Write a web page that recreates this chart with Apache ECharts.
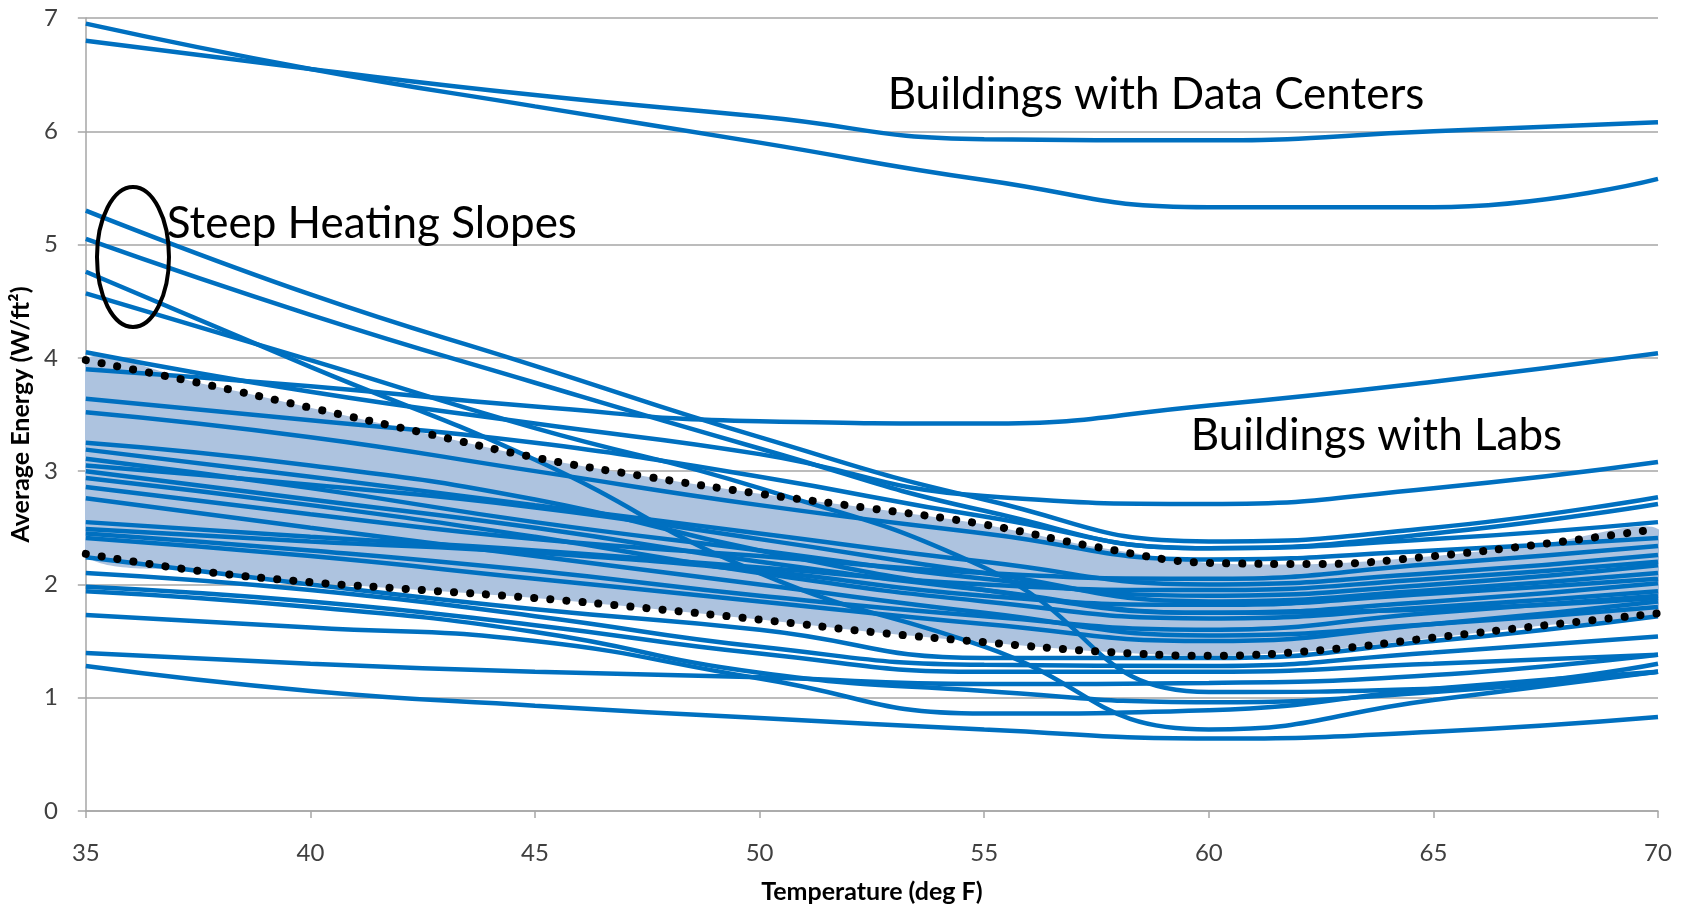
<!DOCTYPE html>
<html>
<head>
<meta charset="utf-8">
<script src="https://cdn.jsdelivr.net/npm/echarts@6/dist/echarts.min.js"></script>
<style>
  html, body { margin: 0; padding: 0; background: #fff; }
  #chart { width: 1688px; height: 909px; }
</style>
</head>
<body>
<div id="chart"></div>
<script>
// temperatures where each building curve was read (deg F)
const temps = [35, 40, 45, 50, 55, 60, 65, 70];

// buildings with data centers
const dataCenterLines = [
  [6.95, 6.55, 6.22, 5.90, 5.57, 5.33, 5.33, 5.58],
  [6.80, 6.55, 6.32, 6.13, 5.93, 5.92, 6.00, 6.08]
];

// buildings with labs
const labLines = [
  [3.90, 3.75, 3.57, 3.44, 3.42, 3.58, 3.79, 4.04],
  [4.05, 3.70, 3.42, 3.15, 2.78, 2.71, 2.85, 3.08]
];

// steep heating slopes
const steepLines = [
  [5.30, 4.56, 3.93, 3.30, 2.75, 2.38, 2.50, 2.77],
  [5.05, 4.38, 3.78, 3.20, 2.65, 2.32, 2.45, 2.71],
  [4.76, 3.92, 3.10, 2.10, 1.45, 0.72, 0.98, 1.23],
  [4.57, 3.98, 3.38, 2.85, 2.15, 1.05, 1.08, 1.30]
];

// typical buildings inside the shaded band
const typicalLines = [
  [3.64, 3.45, 3.25, 2.95, 2.60, 2.32, 2.40, 2.55],
  [3.52, 3.30, 3.00, 2.70, 2.45, 2.22, 2.30, 2.41],
  [3.25, 3.05, 2.75, 2.30, 1.95, 1.75, 1.78, 1.88],
  [3.19, 2.95, 2.70, 2.45, 2.20, 2.00, 2.10, 2.26],
  [3.11, 2.85, 2.55, 2.30, 2.05, 1.90, 2.00, 2.17],
  [3.05, 2.88, 2.68, 2.40, 2.10, 1.85, 1.95, 2.10],
  [3.00, 2.75, 2.50, 2.20, 1.95, 1.75, 1.85, 2.01],
  [2.94, 2.70, 2.42, 2.10, 1.85, 1.70, 1.80, 1.94],
  [2.86, 2.62, 2.40, 2.25, 2.10, 2.05, 2.18, 2.34],
  [2.76, 2.50, 2.25, 2.00, 1.75, 1.55, 1.65, 1.80],
  [2.55, 2.42, 2.30, 2.15, 2.00, 1.95, 2.05, 2.20],
  [2.49, 2.38, 2.28, 2.12, 1.90, 1.82, 1.92, 2.05],
  [2.45, 2.30, 2.12, 1.90, 1.72, 1.60, 1.75, 1.90],
  [2.41, 2.25, 2.05, 1.85, 1.65, 1.50, 1.65, 1.85]
];

// low energy buildings below the band
const lowLines = [
  [2.24, 2.00, 1.78, 1.60, 1.35, 1.35, 1.50, 1.72],
  [2.10, 1.95, 1.72, 1.45, 1.29, 1.28, 1.40, 1.54],
  [1.98, 1.85, 1.64, 1.39, 1.23, 1.23, 1.30, 1.38],
  [1.94, 1.80, 1.58, 1.22, 1.06, 0.96, 1.05, 1.23],
  [1.73, 1.62, 1.50, 1.17, 0.86, 0.89, 1.08, 1.23],
  [1.395, 1.30, 1.23, 1.18, 1.12, 1.13, 1.20, 1.38],
  [1.28, 1.06, 0.93, 0.82, 0.72, 0.64, 0.70, 0.83]
];

// envelope of the typical range (dotted lines)
const envTemps = [35, 37.5, 40, 42.5, 45, 47.5, 50, 52.5, 55, 57.5, 60, 62.5, 65, 67.5, 70];
const upperEnvelope = [3.98, 3.78, 3.56, 3.34, 3.12, 2.95, 2.80, 2.67, 2.53, 2.33, 2.19, 2.18, 2.25, 2.36, 2.49];
const lowerEnvelope = [2.27, 2.12, 2.02, 1.95, 1.88, 1.79, 1.69, 1.58, 1.49, 1.41, 1.37, 1.42, 1.53, 1.64, 1.745];

const blue = '#0070c0';
const font = 'Lato, "Open Sans", sans-serif';

const chart = echarts.init(document.getElementById('chart'));

const toPoints = (xs, ys) => xs.map((x, i) => [x, ys[i]]);

const buildingSeries = [...dataCenterLines, ...labLines, ...steepLines, ...typicalLines, ...lowLines]
  .map((vals, i) => ({
    name: 'building' + i,
    type: 'line',
    data: toPoints(temps, vals),
    smooth: 0.5,
    showSymbol: false,
    lineStyle: { color: blue, width: 4.5 },
    z: 3
  }));

const dotted = (vals) => ({
  type: 'line',
  data: toPoints(envTemps, vals),
  smooth: 0.4,
  showSymbol: false,
  lineStyle: { color: '#000', width: 8, type: [0.1, 16], cap: 'round' },
  z: 4
});

// shaded band between the two envelopes
const bandSeries = {
  type: 'custom',
  coordinateSystem: 'cartesian2d',
  data: envTemps.map((t, i) => [t, upperEnvelope[i], lowerEnvelope[i]]),
  encode: { x: 0, y: [1, 2] },
  clip: true,
  silent: true,
  z: 1,
  renderItem: (params, api) => {
    if (params.dataIndex !== 0) return null;
    const top = envTemps.map((t, i) => api.coord([t, upperEnvelope[i]]));
    const bottom = envTemps.map((t, i) => api.coord([t, lowerEnvelope[i]])).reverse();
    return {
      type: 'polygon',
      shape: { points: top.concat(bottom), smooth: 0.25 },
      style: { fill: '#adc3df' }
    };
  }
};

const option = {
  animation: false,
  backgroundColor: '#fff',
  grid: { left: 85, right: 30, top: 18, bottom: 92 },
  xAxis: {
    type: 'value',
    min: 35,
    max: 70,
    interval: 5,
    name: 'Temperature (deg F)',
    nameLocation: 'middle',
    nameGap: 68,
    nameTextStyle: { fontFamily: font, fontWeight: 'bold', fontSize: 25, color: '#000' },
    axisLine: { lineStyle: { color: '#a6a6a6', width: 1.5 } },
    axisTick: { show: true, length: 7, lineStyle: { color: '#a6a6a6', width: 1.5 } },
    axisLabel: { fontFamily: font, fontSize: 24, color: '#404040', margin: 30 },
    splitLine: { show: false }
  },
  yAxis: {
    type: 'value',
    min: 0,
    max: 7,
    interval: 1,
    name: 'Average Energy (W/ft²)',
    nameLocation: 'middle',
    nameGap: 48,
    nameTextStyle: { fontFamily: font, fontWeight: 'bold', fontSize: 25, color: '#000' },
    axisLine: { show: true, lineStyle: { color: '#a6a6a6', width: 1.5 } },
    axisTick: { show: true, length: 8, lineStyle: { color: '#a6a6a6', width: 1.5 } },
    axisLabel: { fontFamily: font, fontSize: 24, color: '#404040', margin: 28 },
    splitLine: { lineStyle: { color: '#a6a6a6', width: 1.5 } }
  },
  series: [
    bandSeries,
    ...buildingSeries,
    dotted(upperEnvelope),
    dotted(lowerEnvelope)
  ]
};

chart.setOption(option);

// annotations placed from data coordinates
const px = (x, y) => chart.convertToPixel({ gridIndex: 0 }, [x, y]);
const labelStyle = (text, pos) => ({
  type: 'text',
  x: pos[0],
  y: pos[1],
  style: { text, font: '44px ' + font, fill: '#000', textVerticalAlign: 'middle' },
  z: 10
});
const dcPos = px(52.85, 6.32);
const steepPos = px(36.8, 5.18);
const labsPos = px(59.6, 3.31);
const ellipseC = px(36.05, 4.89);

chart.setOption({
  graphic: [
    labelStyle('Buildings with Data Centers', dcPos),
    labelStyle('Steep Heating Slopes', steepPos),
    labelStyle('Buildings with Labs', labsPos),
    {
      type: 'ellipse',
      shape: { cx: ellipseC[0], cy: ellipseC[1], rx: 36, ry: 70 },
      style: { fill: null, stroke: '#000', lineWidth: 4 },
      z: 10
    }
  ]
});
</script>
</body>
</html>
